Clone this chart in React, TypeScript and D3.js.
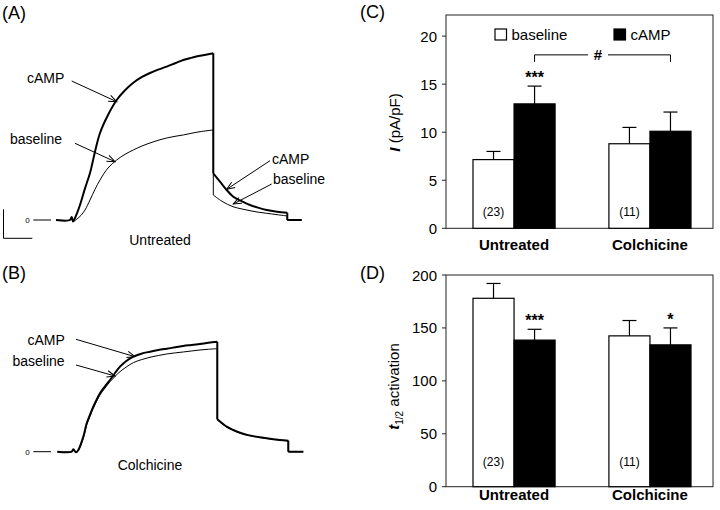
import React from 'react';
import * as d3 from 'd3';

// ---------- data ----------
const categories = ['Untreated', 'Colchicine'];
const conditions = ['baseline', 'cAMP'];
const currentMean = [[7.15, 12.95], [8.8, 10.1]];
const currentSem = [[0.85, 1.85], [1.7, 2.0]];
const currentSig = [['', '***'], ['', '']];
const currentTicks = [0, 5, 10, 15, 20];
const t12Mean = [[178, 138.5], [142.5, 134]];
const t12Sem = [[14, 10.2], [14.5, 16]];
const t12Sig = [['', '***'], ['', '*']];
const t12Ticks = [0, 50, 100, 150, 200];
const nCells = ['(23)', '(11)'];
const comparisonLevel = 18.05;

// traces: [time ms, current pA]
const untreatedCamp: [number, number][] = [
  [0, 0], [140, 0], [157, 90], [170, -45], [190, 60], [240, 450], [290, 950], [340, 1410],
  [390, 2050], [440, 2610], [520, 3150], [607, 3600], [690, 3890], [770, 4110], [860, 4290],
  [940, 4410], [1020, 4510], [1107, 4600], [1190, 4700], [1273, 4800], [1360, 4870],
  [1440, 4929], [1510, 4965], [1573, 5001],
  [1573, 1401], [1640, 1149], [1707, 900], [1773, 699], [1860, 560], [1940, 450], [2020, 370],
  [2107, 300], [2210, 250], [2313, 219], [2313, 0], [2457, 0],
];
const untreatedBase: [number, number][] = [
  [0, 0], [140, 0], [160, 60], [180, -30], [210, 30], [250, 140], [290, 300], [340, 600],
  [390, 920], [440, 1200], [520, 1560], [607, 1800], [690, 1970], [773, 2100], [860, 2220],
  [940, 2310], [1020, 2390], [1107, 2460], [1190, 2510], [1273, 2550], [1360, 2605],
  [1440, 2649], [1573, 2700],
  [1573, 750], [1660, 560], [1770, 399], [1860, 330], [1940, 279], [2020, 235],
  [2107, 201], [2210, 160], [2313, 120], [2313, 0], [2457, 0],
];
const colchCamp: [number, number][] = [
  [0, 0], [144, 0], [160, 72], [187, -18], [210, 51], [260, 450], [294, 852], [327, 1110],
  [360, 1350], [427, 1752], [477, 1960], [527, 2151], [577, 2360], [627, 2550], [690, 2720],
  [760, 2850], [840, 2940], [927, 3000], [1010, 3050], [1094, 3090], [1180, 3130], [1260, 3171],
  [1340, 3200], [1427, 3231], [1510, 3265], [1600, 3300],
  [1600, 972], [1694, 750], [1760, 650], [1827, 570], [1920, 490], [2027, 432], [2160, 375],
  [2310, 330], [2310, 0], [2460, 0],
];
const colchBase: [number, number][] = [
  [0, 0], [144, 0], [160, 72], [187, -18], [210, 30], [260, 400], [294, 801], [327, 1060],
  [360, 1300], [427, 1701], [477, 1910], [527, 2100], [577, 2260], [627, 2400], [690, 2540],
  [760, 2670], [840, 2760], [927, 2832], [1010, 2885], [1094, 2931], [1180, 2965], [1260, 2991],
  [1340, 3020], [1427, 3051], [1510, 3072], [1600, 3090],
  [1600, 960], [1694, 740], [1760, 640], [1827, 562], [1920, 482], [2027, 425], [2160, 368],
  [2310, 325], [2310, 0], [2460, 0],
];

const FONT = 'Arial, "Liberation Sans", Helvetica, sans-serif';

type Pt = [number, number];

// split a trace at its vertical steps so the smooth curve does not overshoot the corners
function splitAtSteps(pts: Pt[]): Pt[][] {
  const segs: Pt[][] = [];
  let cur: Pt[] = [pts[0]];
  for (let i = 1; i < pts.length; i++) {
    if (pts[i][0] === pts[i - 1][0]) {
      segs.push(cur);
      segs.push([pts[i - 1], pts[i]]);
      cur = [pts[i]];
    } else cur.push(pts[i]);
  }
  segs.push(cur);
  return segs;
}

function TracePanel(props: {
  camp: Pt[]; base: Pt[]; x0: number; zeroY: number; label: string; labelX: number; labelY: number;
  arrows: { text: string; tx: number; ty: number; x1: number; y1: number; x2: number; y2: number }[];
  scaleBar?: boolean;
}) {
  const { camp, base, x0, zeroY } = props;
  const x = d3.scaleLinear().domain([0, 2460]).range([x0, x0 + 246]);
  const y = d3.scaleLinear().domain([0, 5000]).range([zeroY, zeroY - 166.7]);
  const line = d3.line<Pt>().x(d => x(d[0])).y(d => y(d[1])).curve(d3.curveCatmullRom.alpha(0.5));
  const pathOf = (pts: Pt[]) => splitAtSteps(pts).map(s => line(s) || '').join(' ');
  return (
    <g>
      <path d={pathOf(base)} fill="none" stroke="#000" strokeWidth={1} strokeLinejoin="round" />
      <path d={pathOf(camp)} fill="none" stroke="#000" strokeWidth={2} strokeLinejoin="round" />
      <text x={27.5} y={zeroY + 3} fontSize={8} fontFamily={FONT} textAnchor="middle">0</text>
      <line x1={33.3} x2={51} y1={zeroY} y2={zeroY} stroke="#000" strokeWidth={1} />
      {props.arrows.map((a, i) => (
        <g key={i}>
          <line x1={a.x1} y1={a.y1} x2={a.x2} y2={a.y2} stroke="#000" strokeWidth={1} markerEnd="url(#arrowHead)" />
          <text x={a.tx} y={a.ty} fontSize={14} fontFamily={FONT}>{a.text}</text>
        </g>
      ))}
      <text x={props.labelX} y={props.labelY} fontSize={14} fontFamily={FONT} textAnchor="middle">{props.label}</text>
      {props.scaleBar && (
        <path d="M3.5,209.3 V238.3 H32.3" fill="none" stroke="#000" strokeWidth={1} />
      )}
    </g>
  );
}

function BarPanel(props: {
  top: number; bottom: number; yMax: number; ticks: number[]; means: number[][]; sems: number[][];
  sig: string[][]; yLabel: React.ReactNode; yLabelX: number; yLabelY: number; nY: number; catY: number;
  legend?: boolean; comparison?: number;
}) {
  const left = 446, right = 713;
  const y = d3.scaleLinear().domain([0, props.yMax]).range([props.bottom, props.top]);
  const x0 = d3.scaleBand<string>().domain(categories).range([left + 27, right - 22]).paddingInner(0.396).paddingOuter(0);
  const x1 = d3.scaleBand<string>().domain(conditions).range([0, x0.bandwidth()]).padding(0);
  const bw = x1.bandwidth();
  return (
    <g fontFamily={FONT}>
      <rect x={left} y={props.top} width={right - left} height={props.bottom - props.top} fill="none" stroke="#222" strokeWidth={1} />
      {props.ticks.map(t => (
        <g key={t}>
          <line x1={left - 4} x2={left} y1={y(t)} y2={y(t)} stroke="#222" />
          <text x={left - 9} y={y(t) + 5.5} fontSize={15} textAnchor="end">{t}</text>
        </g>
      ))}
      {categories.map((c, ci) => (
        <g key={c}>
          {conditions.map((cond, k) => {
            const bx = (x0(c) || 0) + (x1(cond) || 0);
            const m = props.means[ci][k];
            const e = props.sems[ci][k];
            const cx = bx + bw / 2;
            return (
              <g key={cond}>
                <line x1={cx} x2={cx} y1={y(m)} y2={y(m + e)} stroke="#000" strokeWidth={1.2} />
                <line x1={cx - 7} x2={cx + 7} y1={y(m + e)} y2={y(m + e)} stroke="#000" strokeWidth={1.2} />
                <rect x={bx} y={y(m)} width={bw} height={y(0) - y(m)} fill={k === 0 ? '#fff' : '#000'} stroke="#000" strokeWidth={1.2} />
                {props.sig[ci][k] && (
                  <text x={cx} y={y(m + e) - 3} fontSize={16} fontWeight="bold" textAnchor="middle">{props.sig[ci][k]}</text>
                )}
              </g>
            );
          })}
          <text x={(x0(c) || 0) + bw / 2} y={props.nY} fontSize={12} textAnchor="middle">{nCells[ci]}</text>
          <text x={(x0(c) || 0) + x0.bandwidth() / 2} y={props.catY} fontSize={15} fontWeight="bold" textAnchor="middle">{c}</text>
        </g>
      ))}
      <text transform={`translate(${props.yLabelX},${props.yLabelY}) rotate(-90)`} fontSize={15} textAnchor="middle">{props.yLabel}</text>
      {props.legend && (
        <g>
          <rect x={495} y={29} width={11.5} height={11} fill="#fff" stroke="#000" strokeWidth={1.2} />
          <text x={511.5} y={40} fontSize={15}>baseline</text>
          <rect x={614} y={29} width={11.5} height={11} fill="#000" stroke="#000" strokeWidth={1.2} />
          <text x={630.5} y={40} fontSize={15}>cAMP</text>
        </g>
      )}
      {props.comparison !== undefined && (() => {
        const xa = (x0(categories[0]) || 0) + (x1('cAMP') || 0) + bw / 2;
        const xb = (x0(categories[1]) || 0) + (x1('cAMP') || 0) + bw / 2;
        const yy = y(props.comparison);
        const mid = 598;
        return (
          <g>
            <path d={`M${xa},${yy + 7} V${yy} H${mid - 10}`} fill="none" stroke="#000" strokeWidth={1} />
            <path d={`M${mid + 10},${yy} H${xb} V${yy + 7}`} fill="none" stroke="#000" strokeWidth={1} />
            <text x={mid} y={yy + 5.5} fontSize={15} fontWeight="bold" textAnchor="middle">#</text>
          </g>
        );
      })()}
    </g>
  );
}

export default function App() {
  return (
    <svg width={720} height={510} style={{ position: 'absolute', left: 0, top: 0, background: '#fff' }}>
      <defs>
        <marker id="arrowHead" markerUnits="userSpaceOnUse" markerWidth={12} markerHeight={10} refX={0} refY={0} viewBox="-10 -5 12 10" orient="auto">
          <path d="M-8,-3.2 L0,0 L-8,3.2" fill="none" stroke="#000" strokeWidth={1} />
        </marker>
      </defs>
      <rect x={0} y={0} width={720} height={510} fill="#fff" />
      <g fontFamily={FONT}>
        <text x={2} y={19} fontSize={18}>(A)</text>
        <text x={2} y={279} fontSize={18}>(B)</text>
        <text x={360} y={18} fontSize={18}>(C)</text>
        <text x={360} y={279} fontSize={18}>(D)</text>
      </g>
      <TracePanel camp={untreatedCamp} base={untreatedBase} x0={56} zeroY={220} label="Untreated" labelX={160} labelY={245}
        scaleBar
        arrows={[
          { text: 'cAMP', tx: 27, ty: 83, x1: 71.7, y1: 81, x2: 116.7, y2: 101.7 },
          { text: 'baseline', tx: 10, ty: 143.5, x1: 75, y1: 143.3, x2: 115, y2: 161.7 },
          { text: 'cAMP', tx: 272, ty: 163.5, x1: 270, y1: 160.7, x2: 226.7, y2: 189.3 },
          { text: 'baseline', tx: 273, ty: 183.5, x1: 271.7, y1: 184, x2: 233.3, y2: 204 },
        ]} />
      <TracePanel camp={colchCamp} base={colchBase} x0={57.3} zeroY={451.7} label="Colchicine" labelX={150} labelY={470}
        arrows={[
          { text: 'cAMP', tx: 27.5, ty: 345, x1: 76, y1: 339.3, x2: 135, y2: 356.7 },
          { text: 'baseline', tx: 12.5, ty: 365.5, x1: 76, y1: 365, x2: 115, y2: 376 },
        ]} />
      <BarPanel top={15} bottom={228.3} yMax={22.2} ticks={currentTicks} means={currentMean} sems={currentSem}
        sig={currentSig} yLabelX={400} yLabelY={122.5} nY={215.5} catY={250} legend comparison={comparisonLevel}
        yLabel={<><tspan fontStyle="italic" fontWeight="bold">I</tspan><tspan> (pA/pF)</tspan></>} />
      <BarPanel top={275} bottom={486.7} yMax={200} ticks={t12Ticks} means={t12Mean} sems={t12Sem}
        sig={t12Sig} yLabelX={399} yLabelY={386.5} nY={466} catY={500}
        yLabel={<><tspan fontStyle="italic" fontWeight="bold">t</tspan><tspan fontSize={10} dy={4}>1/2</tspan><tspan dy={-4}> activation</tspan></>} />
    </svg>
  );
}
